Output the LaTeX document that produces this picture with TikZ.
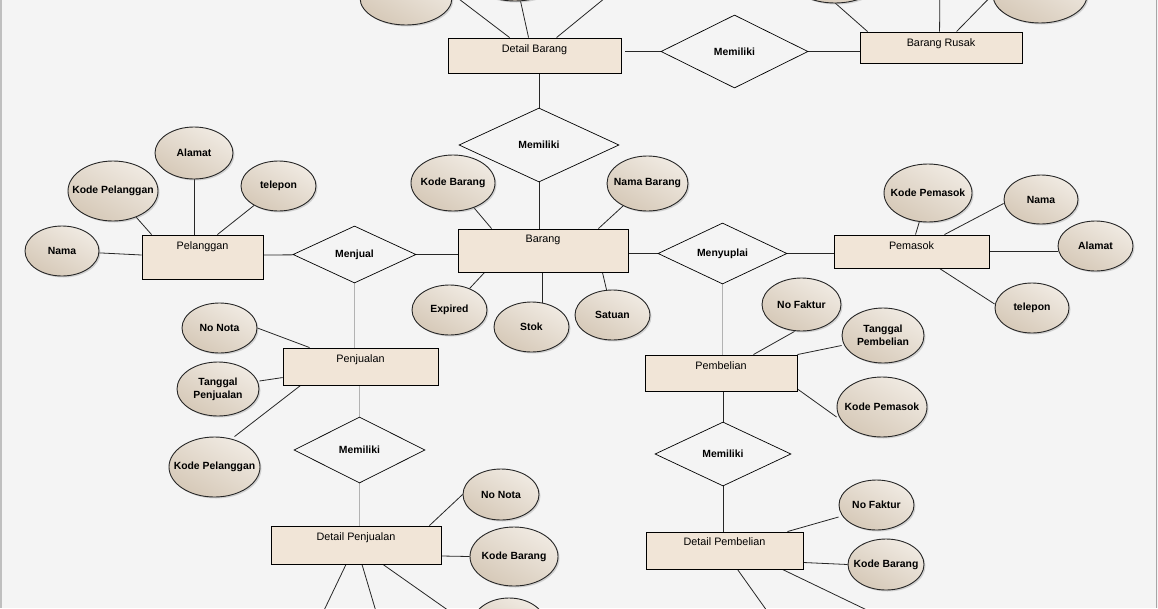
\documentclass[tikz,border=0pt]{standalone}
\usepackage{fontspec}
\setmainfont{Liberation Sans}
\usetikzlibrary{shapes.geometric,shadows,calc}
\definecolor{bgc}{HTML}{F4F4F4}
\definecolor{entfill}{HTML}{F1E5D7}
\definecolor{attrL}{HTML}{D6C9B8}
\definecolor{attrM}{HTML}{E6DDD1}
\definecolor{attrR}{HTML}{F0EAE2}
\pgfdeclarelayer{bgl}
\pgfdeclarelayer{lines}
\pgfsetlayers{bgl,lines,main}
\tikzset{
 ent/.style={rectangle, draw=black, line width=0.9pt, fill=entfill, inner sep=0pt},
 etext/.style={font=\fontsize{10.8}{12}\selectfont, anchor=north, yshift=-7pt, inner sep=0pt},
 rel/.style={diamond, draw=black, line width=0.7pt, inner sep=0pt, shape aspect=2, font=\bfseries\fontsize{10.4}{12}\selectfont},
 attr/.style={ellipse, draw=black!85, line width=0.9pt, bottom color=attrL, middle color=attrM, top color=attrR, shading angle=-30, inner sep=0pt,
   drop shadow={shadow xshift=1.5pt, shadow yshift=-1.5pt, opacity=0.3}},
 atext/.style={font=\bfseries\fontsize{10.4}{13}\selectfont, align=center, inner sep=0pt},
 conn/.style={draw=black!85, line width=0.8pt},
 gconn/.style={draw=black!30, line width=1pt},
}
\begin{document}
\begin{tikzpicture}[x=1pt,y=-1pt]
\useasboundingbox (0,0) rectangle (1158,608);
\begin{pgfonlayer}{bgl}
\fill[bgc] (0,0) rectangle (1158,608);
\draw[black!25, line width=2pt] (1,0) -- (1,608);
\draw[black!35, line width=1pt] (1156.5,0) -- (1156.5,608);
\end{pgfonlayer}

% ---------- entities ----------
\node[ent, minimum width=173pt, minimum height=35pt, label={[etext]north:Detail Barang}] (db) at (534.5,55.5) {};
\node[ent, minimum width=162pt, minimum height=31pt, label={[etext]north:Barang Rusak}] (br) at (941,47.5) {};
\node[ent, minimum width=170pt, minimum height=43pt, label={[etext,yshift=1pt]north:Barang}] (bar) at (543,250.5) {};
\node[ent, minimum width=121pt, minimum height=44pt, label={[etext]north:Pelanggan}] (pel) at (202.5,257) {};
\node[ent, minimum width=155pt, minimum height=33pt, label={[etext]north:Pemasok}] (pem) at (911.5,251.5) {};
\node[ent, minimum width=152pt, minimum height=36pt, label={[etext]north:Pembelian}] (pbl) at (721,373) {};
\node[ent, minimum width=155pt, minimum height=37pt, label={[etext]north:Penjualan}] (pjl) at (360.5,366.5) {};
\node[ent, minimum width=157pt, minimum height=37pt, label={[etext,yshift=1pt]north:Detail Pembelian}] (dpb) at (724.5,550.5) {};
\node[ent, minimum width=170pt, minimum height=38pt, label={[etext]north:Detail Penjualan}] (dpj) at (356,545) {};

% ---------- relationships ----------
\node[rel, minimum width=147pt, minimum height=73pt] (m1) at (734.5,51.5) {Memiliki};
\node[rel, minimum width=160pt, minimum height=74pt] (m2) at (539,145) {Memiliki};
\node[rel, minimum width=123pt, minimum height=57pt] (mj) at (354.5,254.5) {Menjual};
\node[rel, minimum width=129pt, minimum height=61pt] (ms) at (722.5,253.5) {Menyuplai};
\node[rel, minimum width=131pt, minimum height=66pt] (m3) at (359.5,450) {Memiliki};
\node[rel, minimum width=136pt, minimum height=64pt] (m4) at (723,454) {Memiliki};

% ---------- attributes ----------
\node[attr, minimum width=90pt, minimum height=60pt, label={[atext]center:Kode Pelanggan}] (pl-kode) at (113,191) {};
\node[attr, minimum width=78pt, minimum height=52pt, label={[atext]center:Alamat}] (pl-alamat) at (194,153) {};
\node[attr, minimum width=75pt, minimum height=50pt, label={[atext]center:telepon}] (pl-tel) at (278.5,186) {};
\node[attr, minimum width=74pt, minimum height=50pt, label={[atext]center:Nama}] (pl-nama) at (62,251) {};
\node[attr, minimum width=84pt, minimum height=56pt, label={[atext]center:Kode Barang}] (b-kode) at (453,183) {};
\node[attr, minimum width=81pt, minimum height=55pt, label={[atext]center:Nama Barang}] (b-nama) at (647.5,183.5) {};
\node[attr, minimum width=75pt, minimum height=50pt, label={[atext]center:Expired}] (b-exp) at (449.5,310) {};
\node[attr, minimum width=75pt, minimum height=50pt, label={[atext]center:Stok}] (b-stok) at (531.5,327) {};
\node[attr, minimum width=75pt, minimum height=50pt, label={[atext]center:Satuan}] (b-sat) at (612.5,315) {};
\node[attr, minimum width=88pt, minimum height=58pt, label={[atext]center:Kode Pemasok}] (pm-kode) at (928,193) {};
\node[attr, minimum width=74pt, minimum height=49pt, label={[atext]center:Nama}] (pm-nama) at (1041,199.5) {};
\node[attr, minimum width=75pt, minimum height=50pt, label={[atext]center:Alamat}] (pm-alamat) at (1095.5,246) {};
\node[attr, minimum width=74pt, minimum height=50pt, label={[atext]center:telepon}] (pm-tel) at (1032,308) {};
\node[attr, minimum width=79pt, minimum height=53pt, label={[atext]center:No Faktur}] (pb-nf) at (801.5,304.5) {};
\node[attr, minimum width=82pt, minimum height=55pt, label={[atext]center:Tanggal\\Pembelian}] (pb-tgl) at (883,335.5) {};
\node[attr, minimum width=90pt, minimum height=60pt, label={[atext]center:Kode Pemasok}] (pb-kp) at (882,407) {};
\node[attr, minimum width=75pt, minimum height=50pt, label={[atext]center:No Nota}] (pj-nn) at (219.5,328) {};
\node[attr, minimum width=82pt, minimum height=54pt, label={[atext]center:Tanggal\\Penjualan}] (pj-tgl) at (218,389) {};
\node[attr, minimum width=91pt, minimum height=60pt, label={[atext]center:Kode Pelanggan}] (pj-kp) at (214.5,467) {};
\node[attr, minimum width=75pt, minimum height=50pt, label={[atext]center:No Faktur}] (dpb-nf) at (876.5,505) {};
\node[attr, minimum width=76pt, minimum height=51pt, label={[atext]center:Kode Barang}] (dpb-kb) at (886,564.5) {};
\node[attr, minimum width=76pt, minimum height=51pt, label={[atext]center:No Nota}] (dpj-nn) at (501,494.5) {};
\node[attr, minimum width=88pt, minimum height=59pt, label={[atext]center:Kode Barang}] (dpj-kb) at (514,556.5) {};
% partially visible attributes at the edges
\node[attr, minimum width=74pt, minimum height=54pt] (dpj-x) at (509,625) {};
\node[attr, minimum width=92pt, minimum height=54pt] (t1) at (406,-2) {};
\node[attr, minimum width=90pt, minimum height=50pt] (t2) at (515,-24) {};
\node[attr, minimum width=90pt, minimum height=50pt] (t3) at (835,-22) {};
\node[attr, minimum width=94pt, minimum height=56pt] (t4) at (1040,-5) {};

% ---------- connectors ----------
\begin{pgfonlayer}{lines}
\coordinate (dbA) at (434,-20);
\coordinate (dbC) at (627,-20);
\coordinate (brA) at (809,-20);
\coordinate (brB) at (940,-20);
\coordinate (brC) at (1007,-20);
\coordinate (dpbA) at (777,625);
\coordinate (dpbB) at (898,625);
\coordinate (dpjA) at (317,625);
\coordinate (dpjB) at (380,625);
\coordinate (dpjC) at (469,625);

\draw[conn] ([xshift=62pt]db.north west) -- (dbA);
\draw[conn] ([xshift=81pt]db.north west) -- (t2);
\draw[conn] ([xshift=109pt]db.north west) -- (dbC);
\draw[conn] ([xshift=4pt]m1 -| db.east) -- (m1);
\draw[conn] (m1) -- (m1 -| br.west);
\draw[conn] ([xshift=8pt]br.north west) -- (brA);
\draw[conn] ([xshift=80pt]br.north west) -- (brB);
\draw[conn] ([xshift=97pt]br.north west) -- (brC);
\draw[conn] (db.south -| m2) -- (m2);
\draw[conn] (m2) -- (m2 |- bar.north);

\draw[conn] (pl-nama) -- ([yshift=2pt]pel.west);
\draw[conn] (pl-kode) -- ([xshift=10pt]pel.north west);
\draw[conn] (pl-alamat) -- (pl-alamat |- pel.north);
\draw[conn] (pl-tel) -- ([xshift=-46pt]pel.north east);
\draw[conn] ([yshift=2pt]pel.east) -- (mj);
\draw[conn] (mj) -- (mj -| bar.west);

\draw[conn] (b-kode) -- ([xshift=34pt]bar.north west);
\draw[conn] (b-nama) -- ([xshift=-30pt]bar.north east);
\draw[conn] ([xshift=27pt]bar.south west) -- (b-exp);
\draw[conn] ([xshift=85pt]bar.south west) -- ([xshift=85pt]bar.south west |- b-stok);
\draw[conn] ([xshift=-26pt]bar.south east) -- (b-sat);
\draw[conn] (ms -| bar.east) -- (ms);
\draw[conn] (ms) -- (ms -| pem.west);

\draw[conn] ([xshift=4pt]pem.north) -- (pm-kode);
\draw[conn] ([xshift=33pt]pem.north) -- ([yshift=-4pt]pm-nama.west);
\draw[conn] (pem.east) -- (pem.east -| pm-alamat.west);
\draw[conn] ([xshift=28pt]pem.south) -- ([yshift=4pt]pm-tel.west);

\draw[gconn] (ms) -- (ms |- pbl.north);
\draw[conn] ([xshift=-44pt]pbl.north east) -- ([xshift=-7pt]pb-nf.south);
\draw[conn] (pbl.north east) -- ([yshift=-10pt]pb-tgl.west);
\draw[conn] ([yshift=-16pt]pbl.east) -- ([yshift=-10pt]pb-kp.west);
\draw[conn] (pbl.south -| m4) -- (m4);
\draw[conn] (m4) -- (m4 |- dpb.north);
\draw[conn] ([xshift=-16pt]dpb.north east) -- ([yshift=-12pt]dpb-nf.west);
\draw[conn] ([yshift=-12pt]dpb.east) -- (dpb-kb.west);
\draw[conn] ([xshift=13pt]dpb.south) -- (dpbA);
\draw[conn] ([xshift=58pt]dpb.south) -- (dpbB);

\draw[gconn] (mj) -- (mj |- pjl.north);
\draw[conn] (pj-nn.east) -- ([xshift=27pt]pjl.north west);
\draw[conn] ([yshift=8pt]pj-tgl.east) -- ([yshift=-30pt]pjl.north west);
\draw[conn] ([xshift=18pt]pjl.south west) -- ([xshift=20pt]pj-kp.north);
\draw[gconn] (pjl.south -| m3) -- (m3);
\draw[gconn] (m3) -- (m3 |- dpj.north);
\draw[conn] ([xshift=-12pt]dpj.north east) -- (dpj-nn.west);
\draw[conn] ([yshift=-11pt]dpj.east) -- (dpj-kb.west);
\draw[conn] ([xshift=-10pt]dpj.south) -- (dpjA);
\draw[conn] ([xshift=6pt]dpj.south) -- (dpjB);
\draw[conn] ([xshift=27pt]dpj.south) -- (dpjC);
\end{pgfonlayer}
\end{tikzpicture}
\end{document}
